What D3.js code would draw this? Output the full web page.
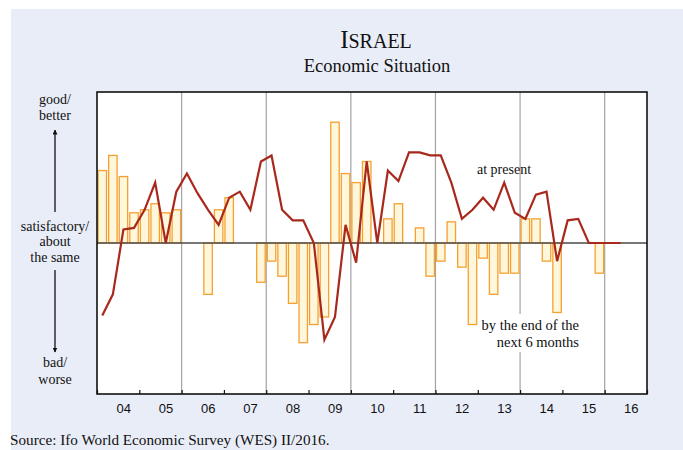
<!DOCTYPE html>
<html>
<head>
<meta charset="utf-8">
<script src="https://cdn.jsdelivr.net/npm/d3@7"></script>
<style>
  html, body { margin: 0; padding: 0; background: #ffffff; }
  svg { display: block; }
</style>
</head>
<body>
<svg id="chart" width="683" height="450"></svg>
<script>
// Year tick labels (2004 … 2016)
const yearLabels = ["04", "05", "06", "07", "08", "09", "10", "11", "12", "13", "14", "15", "16"];
const firstYear = 2004;

// Quarterly balances, 2004 Q1 – 2016 Q2
// Economic situation at present (line)
const present = [
  -48, -34, 9, 10,   22, 40, 0, 34,   46, 33, 22, 12,   30, 34, 22, 54,
   58, 22, 15, 15,    0, -64, -49, 12, -13, 54, 0, 48,  41, 60, 60, 58,
   58, 40, 16, 22,   30, 22, 40, 20,   16, 32, 34, -12,  15, 16, 0, 0,
    0, 0
];
// Expected situation by the end of the next 6 months (bars)
const expectations = [
   48, 58, 44, 20,   22, 26, 20, 22,    0, 0, -34, 22,   30, 0, 0, -26,
  -12, -22, -40, -66, -54, -49, 80, 46,  40, 54, 0, 16,   26, 0, 10, -22,
  -12, 14, -16, -54, -10, -34, -20, -20, 16, 16, -12, -46,  0, 0, 0, -20,
  null, null
];

const svg = d3.select("#chart");
const W = 683, H = 450;
const plot = { left: 97, right: 647, top: 92, bottom: 394 };

// page background panel
svg.append("rect").attr("x", 0).attr("y", 0).attr("width", W).attr("height", H).attr("fill", "#ffffff");
svg.append("rect").attr("x", 11).attr("y", 9).attr("width", W - 11).attr("height", H - 9).attr("fill", "#e9edf8");

// title
const title = svg.append("text")
  .attr("x", 376).attr("y", 48)
  .attr("text-anchor", "middle")
  .attr("font-family", "'Liberation Serif', 'Times New Roman', serif")
  .attr("fill", "#111");
title.append("tspan").attr("font-size", 25).text("I");
title.append("tspan").attr("font-size", 20).text("SRAEL");
svg.append("text")
  .attr("x", 377).attr("y", 72)
  .attr("text-anchor", "middle")
  .attr("font-family", "'Liberation Serif', 'Times New Roman', serif")
  .attr("font-size", 18.5)
  .attr("fill", "#111")
  .text("Economic Situation");

// scales
const x = d3.scaleLinear()
  .domain([firstYear, firstYear + yearLabels.length])
  .range([plot.left, plot.right]);
const y = d3.scaleLinear().domain([-100, 100]).range([plot.bottom, plot.top]);
const qx = i => x(firstYear + (i + 0.5) / 4);
const barW = (x(firstYear + 0.25) - x(firstYear)) * 0.8;

// plot area
svg.append("rect")
  .attr("x", plot.left).attr("y", plot.top)
  .attr("width", plot.right - plot.left).attr("height", plot.bottom - plot.top)
  .attr("fill", "#ffffff");

// two-year gridlines
const gridYears = d3.range(firstYear + 2, firstYear + yearLabels.length, 2);
svg.append("g").selectAll("line").data(gridYears).join("line")
  .attr("x1", d => x(d)).attr("x2", d => x(d))
  .attr("y1", plot.top).attr("y2", plot.bottom)
  .attr("stroke", "#a3a3a3").attr("stroke-width", 1.2);

// expectation bars
const barData = expectations.map((v, i) => ({ i, v })).filter(d => d.v);
svg.append("g").selectAll("rect").data(barData).join("rect")
  .attr("x", d => qx(d.i) - barW / 2)
  .attr("width", barW)
  .attr("y", d => Math.min(y(d.v), y(0)))
  .attr("height", d => Math.abs(y(d.v) - y(0)))
  .attr("fill", "#fff7dc")
  .attr("stroke", "#f6a030")
  .attr("stroke-width", 1.3);

// zero line
svg.append("line")
  .attr("x1", plot.left).attr("x2", plot.right)
  .attr("y1", y(0)).attr("y2", y(0))
  .attr("stroke", "#4a4a4a").attr("stroke-width", 1.5);

// white box behind the lower annotation
svg.append("rect")
  .attr("x", 478).attr("y", 314).attr("width", 104).attr("height", 38)
  .attr("fill", "#ffffff");

// present situation line
const line = d3.line().x((d, i) => qx(i)).y(d => y(d));
svg.append("path")
  .datum(present)
  .attr("d", line)
  .attr("fill", "none")
  .attr("stroke", "#a8291b")
  .attr("stroke-width", 2.2)
  .attr("stroke-linejoin", "miter");

// annotations
const serif = "'Liberation Serif', 'Times New Roman', serif";
svg.append("text")
  .attr("x", 504).attr("y", 174).attr("text-anchor", "middle")
  .attr("font-family", serif).attr("font-size", 14).attr("fill", "#111")
  .text("at present");
svg.append("text")
  .attr("x", 579).attr("y", 330).attr("text-anchor", "end")
  .attr("font-family", serif).attr("font-size", 14.5).attr("fill", "#111")
  .text("by the end of the");
svg.append("text")
  .attr("x", 579).attr("y", 347).attr("text-anchor", "end")
  .attr("font-family", serif).attr("font-size", 14.5).attr("fill", "#111")
  .text("next 6 months");

// bottom axis: year ticks pointing into the plot
const tickAxis = d3.axisBottom(x)
  .tickValues(d3.range(firstYear, firstYear + yearLabels.length + 1))
  .tickSize(-4)
  .tickFormat("");
svg.append("g")
  .attr("transform", `translate(0,${plot.bottom})`)
  .call(tickAxis)
  .call(g => g.select(".domain").remove())
  .selectAll("line").attr("stroke", "#111").attr("stroke-width", 1.2);

// bottom axis: year labels
const labelAxis = d3.axisBottom(x)
  .tickValues(d3.range(yearLabels.length).map(k => firstYear + k + 0.5))
  .tickSize(0)
  .tickPadding(10)
  .tickFormat(d => yearLabels[Math.floor(d) - firstYear]);
svg.append("g")
  .attr("transform", `translate(5,${plot.bottom})`)
  .call(labelAxis)
  .call(g => g.select(".domain").remove())
  .selectAll("text")
  .attr("font-family", "'Liberation Sans', Arial, sans-serif")
  .attr("font-size", 13)
  .attr("fill", "#111");

// plot frame
svg.append("rect")
  .attr("x", plot.left).attr("y", plot.top)
  .attr("width", plot.right - plot.left).attr("height", plot.bottom - plot.top)
  .attr("fill", "none").attr("stroke", "#111").attr("stroke-width", 1.6);

// left-hand verbal scale
const leftX = 55;
const leftLabels = [
  { t: "good/", y: 104 }, { t: "better", y: 120 },
  { t: "satisfactory/", y: 231 }, { t: "about", y: 246 }, { t: "the same", y: 262 },
  { t: "bad/", y: 367 }, { t: "worse", y: 384 }
];
svg.append("g").selectAll("text").data(leftLabels).join("text")
  .attr("x", leftX).attr("y", d => d.y)
  .attr("text-anchor", "middle")
  .attr("font-family", serif).attr("font-size", 14).attr("fill", "#111")
  .text(d => d.t);

const defs = svg.append("defs");
defs.append("marker")
  .attr("id", "arrowHead")
  .attr("viewBox", "0 0 10 10")
  .attr("refX", 9).attr("refY", 5)
  .attr("markerWidth", 5).attr("markerHeight", 5)
  .attr("markerUnits", "userSpaceOnUse")
  .attr("orient", "auto")
  .append("path").attr("d", "M0,0 L10,5 L0,10 Z").attr("fill", "#111");

svg.append("line")
  .attr("x1", leftX).attr("x2", leftX).attr("y1", 212).attr("y2", 130)
  .attr("stroke", "#111").attr("stroke-width", 1.3)
  .attr("marker-end", "url(#arrowHead)");
svg.append("line")
  .attr("x1", leftX).attr("x2", leftX).attr("y1", 270).attr("y2", 352)
  .attr("stroke", "#111").attr("stroke-width", 1.3)
  .attr("marker-end", "url(#arrowHead)");

// source note
svg.append("text")
  .attr("x", 10).attr("y", 445)
  .attr("font-family", serif).attr("font-size", 15.2).attr("fill", "#111")
  .text("Source: Ifo World Economic Survey (WES) II/2016.");
</script>
</body>
</html>
